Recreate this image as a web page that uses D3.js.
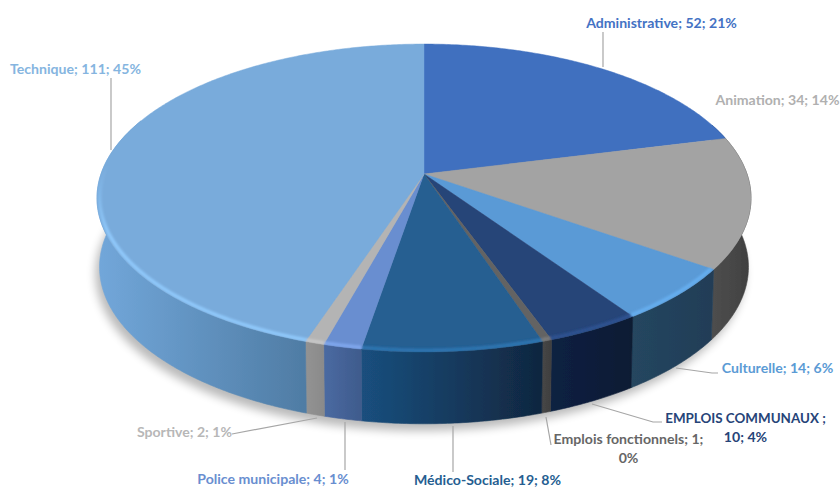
<!DOCTYPE html>
<html><head><meta charset="utf-8">
<script src="https://cdn.jsdelivr.net/npm/d3@7/dist/d3.min.js"></script>
<style>html,body{margin:0;padding:0;background:#fff}svg{display:block}text{font-family:Lato,"Open Sans",sans-serif;font-weight:700;font-size:14.1px}</style>
</head><body><svg id="c" width="840" height="488"></svg>
<script>
// ---- data ----
const categories=["Administrative","Animation","Culturelle","EMPLOIS COMMUNAUX","Emplois fonctionnels","Médico-Sociale","Police municipale","Sportive","Technique"];
const values=[52,34,14,10,1,19,4,2,111];
const percentLabels=["21%","14%","6%","4%","0%","8%","1%","1%","45%"];
// ---- styles ----
const topColors=["#3F6FBF","#A3A3A3","#5A9AD6","#264478","#636363","#255E91","#698ED0","#B4B4B4","#79ABDB"];
const sideLeft=["#2B4C85","#4E4E4E","#25465F","#0E2142","#474747","#1A4F7E","#4A6AA2","#939393","#72A7DA"];
const sideRight=["#2B4C85","#404040","#213D57","#0A1A33","#3F3F3F","#10263F","#3F5B8C","#8A8A8A","#4F7CA4"];
const rimColors=[null,null,"#66AEEF","#2E5291","#7A7A7A","#2E74B0","#7EA6EC","#C6C6C6","#8FC8FA"];
const textColors=["#4472C4","#B0B0B0","#5B9BD5","#264478","#666666","#255E91","#698ED0","#B7B7B7","#85B5E0"];
// label layout: text, centre x, baseline y, one entry per line
const labelLines=[
 [[categories[0]+"; "+values[0]+"; "+percentLabels[0],661.5,28]],
 [[categories[1]+"; "+values[1]+"; "+percentLabels[1],777.5,105]],
 [[categories[2]+"; "+values[2]+"; "+percentLabels[2],777.5,373]],
 [[categories[3]+" ;",745.5,423,13.4],[values[3]+"; "+percentLabels[3],745.5,442]],
 [[categories[4]+"; "+values[4]+";",628.5,444],[percentLabels[4],628.5,463]],
 [[categories[5]+"; "+values[5]+"; "+percentLabels[5],487.5,485]],
 [[categories[6]+"; "+values[6]+"; "+percentLabels[6],273,484]],
 [[categories[7]+"; "+values[7]+"; "+percentLabels[7],184.5,437]],
 [[categories[8]+"; "+values[8]+"; "+percentLabels[8],75.5,74]]
];
const leaders=[
 [[603,32],[603,67]],
 [],
 [[676,368],[712,373],[718,373]],
 [[592,404],[653,422],[662,422]],
 [[546,417],[551,445]],
 [[453,426],[453,472]],
 [[345,422],[345,470]],
 [[317,418],[232,434]],
 [[111,78],[111,150]]
];

const svg=d3.select("#c");
const defs=svg.append("defs");
const TAU=Math.PI*2, K=0.156;
const pieGen=d3.pie().sort(null).value(d=>d);
const arcs=pieGen(values);
const xTop=d3.scaleLinear([-1,1],[424-323,424+323]);
const yTop=d3.scaleLinear([-1,1],[174-150.2,174+150.2]);
const xBot=d3.scaleLinear([-1,1],[424-320.5,424+320.5]);
const yBot=d3.scaleLinear([-1,1],[242.5-153,242.5+153]);
function proj(a,r,sx,sy){
  const u=r*Math.sin(a),v=-r*Math.cos(a),w=1/(1-K*v);
  return [sx(u*w),sy(v*w)];
}
const samples=(a0,a1)=>{const n=Math.max(2,Math.ceil(Math.abs(a1-a0)/0.01));return d3.range(n+1).map(i=>a0+(a1-a0)*i/n);};
const line=d3.line();
const blur=(id,s)=>defs.append("filter").attr("id",id).attr("x","-20%").attr("y","-20%").attr("width","140%").attr("height","140%").append("feGaussianBlur").attr("stdDeviation",s);
blur("sh",5);blur("rb",1);blur("soft",0.4);

const all=samples(0,TAU);
// shadow
svg.append("path").attr("d",line(all.map(a=>proj(a,1,xBot,yBot)))+"Z")
  .attr("transform","translate(-4,7)").attr("fill","#000").attr("opacity",0.27).attr("filter","url(#sh)");

const pie=svg.append("g").attr("filter","url(#soft)");
// visible side range
const VIS0=70*Math.PI/180,VIS1=292*Math.PI/180;
const sideG=pie.append("g");
arcs.forEach((d,i)=>{
  const a0=Math.max(d.startAngle,VIS0),a1=Math.min(d.endAngle,VIS1);
  if(a1<=a0) return;
  const pts=samples(a0,a1);
  const top=pts.map(a=>proj(a,1,xTop,yTop));
  const bot=pts.map(a=>proj(a,1,xBot,yBot)).reverse();
  const xs=top.concat(bot).map(p=>p[0]);
  const g=defs.append("linearGradient").attr("id","s"+i).attr("gradientUnits","userSpaceOnUse")
    .attr("x1",d3.min(xs)).attr("x2",d3.max(xs)).attr("y1",0).attr("y2",0);
  g.append("stop").attr("offset",0).attr("stop-color",sideLeft[i]);
  g.append("stop").attr("offset",1).attr("stop-color",sideRight[i]);
  sideG.append("path").attr("d",line(top.concat(bot))+"Z").attr("fill",`url(#s${i})`).attr("stroke",`url(#s${i})`).attr("stroke-width",0.6);
});
// top faces
const centre=[xTop(0),yTop(0)];
arcs.forEach((d,i)=>{
  const pts=samples(d.startAngle,d.endAngle).map(a=>proj(a,1,xTop,yTop));
  pie.append("path").attr("d",line([centre].concat(pts))+"Z").attr("fill",topColors[i]).attr("stroke",topColors[i]).attr("stroke-width",0.5);
});
// rim highlight, fading out towards the back of the disc
defs.append("clipPath").attr("id","tc").append("path").attr("d",line(all.map(a=>proj(a,1,xTop,yTop)))+"Z");
const rimG=pie.append("g").attr("clip-path","url(#tc)").append("g").attr("filter","url(#rb)");
const R0=118*Math.PI/180,R1=285*Math.PI/180;
arcs.forEach((d,i)=>{
  if(!rimColors[i]) return;
  const a0=Math.max(d.startAngle,R0),a1=Math.min(d.endAngle,R1);
  if(a1<=a0) return;
  const g=defs.append("linearGradient").attr("id","r"+i).attr("gradientUnits","userSpaceOnUse")
    .attr("x1",0).attr("x2",0).attr("y1",165).attr("y2",235);
  g.append("stop").attr("offset",0).attr("stop-color",rimColors[i]).attr("stop-opacity",0);
  g.append("stop").attr("offset",1).attr("stop-color",rimColors[i]).attr("stop-opacity",1);
  rimG.append("path").attr("d",line(samples(a0,a1).map(a=>proj(a,0.992,xTop,yTop))))
    .attr("fill","none").attr("stroke",`url(#r${i})`).attr("stroke-width",3.6);
});
// leaders
leaders.forEach(l=>{ if(l.length) svg.append("path").attr("d",line(l)).attr("fill","none").attr("stroke","#A6A6A6").attr("stroke-width",1.2); });
// labels
labelLines.forEach((ls,i)=>ls.forEach(l=>{
  const t=svg.append("text").attr("x",l[1]).attr("y",l[2]).attr("text-anchor","middle").attr("fill",textColors[i]).text(l[0]);
  if(l[3]) t.style("font-size",l[3]+"px");
}));
</script></body></html>
